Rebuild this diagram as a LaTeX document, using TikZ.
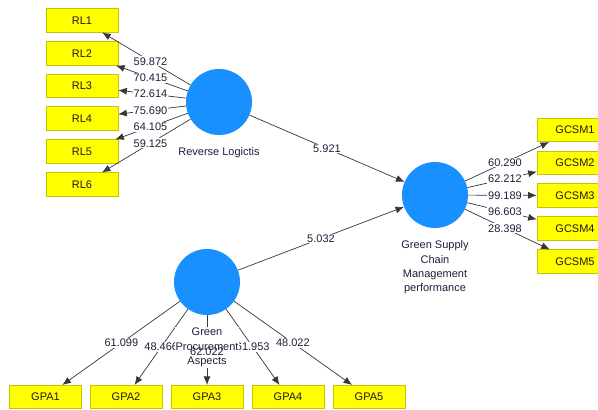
\documentclass[tikz,border=0pt]{standalone}
\usepackage{fontspec}
\setmainfont{Liberation Sans}
\usetikzlibrary{arrows.meta,calc}
\definecolor{circ}{RGB}{24,144,255}
\definecolor{boxfill}{RGB}{255,255,0}
\definecolor{boxline}{RGB}{196,196,0}
\definecolor{txt}{RGB}{40,20,30}
\definecolor{lbltxt}{RGB}{30,30,60}
\definecolor{edge}{RGB}{55,55,55}
\begin{document}
\begin{tikzpicture}[x=1pt,y=-1pt,
  ind/.style={draw=boxline, fill=boxfill, minimum width=72pt, minimum height=23.5pt, inner sep=0pt, font=\fontsize{11}{12}\selectfont, text=txt, line width=0.6pt},
  indw/.style={ind, minimum width=76pt},
  lv/.style={circle, fill=circ, minimum size=66pt, inner sep=0pt},
  lvl/.style={font=\fontsize{11}{14.3}\selectfont, align=center, text=lbltxt, inner sep=1pt},
  conn/.style={draw=edge, line width=0.7pt, -{Latex[length=8.5pt,width=7pt]}},
  wl/.style={fill=white, inner sep=1pt, font=\fontsize{11}{12}\selectfont, text=lbltxt}]
\clip (0,0) rectangle (598,410);
\fill[white] (0,0) rectangle (598,410);
% latent variables
\node[lv] (rl) at (219,102) {};
\node[lv] (gscm) at (435,195) {};
\node[lv] (gpa) at (207,282) {};
% RL indicators
\node[ind] (rl1) at (82,20.5) {RL1};
\node[ind] (rl2) at (82,53.5) {RL2};
\node[ind] (rl3) at (82,86) {RL3};
\node[ind] (rl4) at (82,118.5) {RL4};
\node[ind] (rl5) at (82,151.5) {RL5};
\node[ind] (rl6) at (82,184.5) {RL6};
% GCSM indicators
\node[indw] (g1) at (575,130) {GCSM1};
\node[indw] (g2) at (575,163) {GCSM2};
\node[indw] (g3) at (575,195.5) {GCSM3};
\node[indw] (g4) at (575,228.5) {GCSM4};
\node[indw] (g5) at (575,261.5) {GCSM5};
% GPA indicators
\node[ind] (p1) at (45.5,397) {GPA1};
\node[ind] (p2) at (126,397) {GPA2};
\node[ind] (p3) at (207,397) {GPA3};
\node[ind] (p4) at (288,397) {GPA4};
\node[ind] (p5) at (369,397) {GPA5};
% connectors
\foreach \t in {rl1,rl2,rl3,rl4,rl5,rl6} \draw[conn] (rl) -- (\t);
\foreach \t in {g1,g2,g3,g4,g5} \draw[conn] (gscm) -- (\t);
\foreach \t in {p1,p2,p3,p4,p5} \draw[conn] (gpa) -- (\t);
\draw[conn] (rl) -- (gscm);
\draw[conn] (gpa) -- (gscm);
% weights
\node[wl] (w1) at ($(rl)!0.5!(rl1)$) {59.872};
\node[wl] (w2) at ($(rl)!0.5!(rl2)$) {70.415};
\node[wl] (w3) at ($(rl)!0.5!(rl3)$) {72.614};
\node[wl] (w4) at ($(rl)!0.5!(rl4)$) {75.690};
\node[wl] (w5) at ($(rl)!0.5!(rl5)$) {64.105};
\node[wl] (w6) at ($(rl)!0.5!(rl6)$) {59.125};
\node[wl] (v1) at ($(gscm)!0.5!(g1)$) {60.290};
\node[wl] (v2) at ($(gscm)!0.5!(g2)$) {62.212};
\node[wl] (v3) at ($(gscm)!0.5!(g3)$) {99.189};
\node[wl] (v4) at ($(gscm)!0.5!(g4)$) {96.603};
\node[wl] (v5) at ($(gscm)!0.5!(g5)$) {28.398};
\node[wl] (u1) at ($(gpa)!0.53!(p1)$) {61.099};
\node[wl] (u2) at ($(gpa)!0.565!(p2)$) {48.466};
\node[wl] (u4) at ($(gpa)!0.565!(p4)$) {61.953};
\node[wl] (u5) at ($(gpa)!0.53!(p5)$) {48.022};
\node[wl] (s1) at ($(rl)!0.5!(gscm)$) {5.921};
\node[wl] (s2) at ($(gpa)!0.5!(gscm)$) {5.032};
% latent labels
\node[lvl] (rll) at (219,153) {Reverse Logictis};
\node[lvl] (gscml) at (435,267.5) {Green Supply\\Chain\\Management\\performance};
\node[lvl, fill=white] (gpal) at (207,347.5) {Green\\Procurement\\Aspects};
\node[wl, fill=none] (u3) at ($(gpa)!0.61!(p3)$) {62.022};
\end{tikzpicture}
\end{document}
